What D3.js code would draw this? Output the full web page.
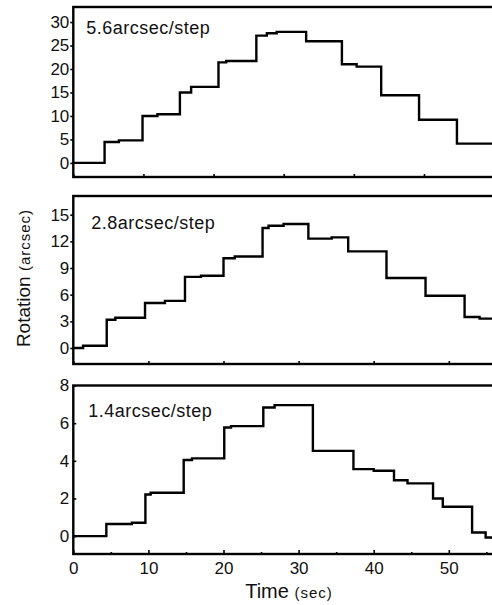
<!DOCTYPE html>
<html>
<head>
<meta charset="utf-8">
<script src="https://cdn.jsdelivr.net/npm/d3@7"></script>
<style>
  html, body { margin: 0; padding: 0; background: #fff; }
  svg { display: block; font-family: "Liberation Sans", Arial, sans-serif; }
  .tick text { fill: #111; }
</style>
</head>
<body>
<svg id="chart" width="492" height="605"></svg>
<script>
// Rotation response to stepped commands, three step sizes.
// Each trace: times (s) at which the level changes, and the level (arcsec) held from then on.
const stepLabels = ["5.6arcsec/step", "2.8arcsec/step", "1.4arcsec/step"];

const time56 = [0, 4.46, 6.5, 9.87, 12.0, 15.2, 16.8, 20.7, 21.8, 26.1, 27.6, 29.0, 33.2, 38.3, 40.4, 43.9, 49.3, 54.7, 59.7];
const rot56  = [0, 4.45, 4.8, 10.0, 10.35, 15.0, 16.2, 21.4, 21.7, 27.1, 27.6, 27.9, 25.9, 21.0, 20.5, 14.4, 9.2, 4.1, 4.1];

const time28 = [0, 1.3, 4.45, 5.6, 9.55, 12.2, 14.87, 17.0, 20.0, 21.5, 25.2, 26.0, 28.0, 31.3, 34.4, 36.6, 41.7, 46.9, 52.1, 54.1, 55.75];
const rot28  = [0, 0.26, 3.18, 3.4, 5.06, 5.3, 8.0, 8.13, 10.1, 10.3, 13.5, 13.76, 13.95, 12.3, 12.45, 10.87, 7.87, 5.88, 3.49, 3.3, 3.3];

const time14 = [0, 4.4, 7.8, 9.6, 10.3, 14.7, 15.8, 20.1, 21.0, 25.3, 26.8, 31.9, 37.3, 40.0, 42.7, 44.5, 47.9, 49.2, 53.1, 54.9, 55.75];
const rot14  = [0, 0.64, 0.71, 2.21, 2.3, 4.04, 4.13, 5.77, 5.84, 6.83, 6.96, 4.53, 3.56, 3.47, 2.97, 2.8, 2.0, 1.56, 0.19, -0.07, -0.15];

const yTicks56 = [0, 5, 10, 15, 20, 25, 30];
const yTicks28 = [0, 3, 6, 9, 12, 15];
const yTicks14 = [0, 2, 4, 6, 8];
const xTicksMajor = [0, 10, 20, 30, 40, 50];
const xTicksMinor = [5, 15, 25, 35, 45, 55];

const xLabel = "Time", xUnit = "(sec)";
const yLabel = "Rotation", yUnit = "(arcsec)";

// Panel layout
const left = 73.3, right = 492;
const panels = [
  { times: time56, rots: rot56, yTicks: yTicks56, label: stepLabels[0],
    top: 7, bottom: 177, yDom: [-3.0, 33.2], xMax: 59.7, tickIn: false, xLabels: false, lx: 13, ly: 27 },
  { times: time28, rots: rot28, yTicks: yTicks28, label: stepLabels[1],
    top: 196, bottom: 364, yDom: [-1.8, 17.1], xMax: 55.75, tickIn: false, xLabels: false, lx: 18, ly: 33 },
  { times: time14, rots: rot14, yTicks: yTicks14, label: stepLabels[2],
    top: 385.5, bottom: 554, yDom: [-0.95, 8], xMax: 55.75, tickIn: true, xLabels: true, lx: 15, ly: 31.5 }
];

const svg = d3.select("#chart");

panels.forEach((p, i) => {
  const x = d3.scaleLinear().domain([0, p.xMax]).range([left, right]);
  const y = d3.scaleLinear().domain(p.yDom).range([p.bottom, p.top]);
  const g = svg.append("g");

  // clip the trace to the plotting frame
  const clipId = "clip" + i;
  g.append("clipPath").attr("id", clipId)
    .append("rect").attr("x", left).attr("y", p.top).attr("width", right - left + 5).attr("height", p.bottom - p.top);

  // y axis
  const yAxis = d3.axisLeft(y).tickValues(p.yTicks).tickSizeOuter(0)
    .tickSize(p.tickIn ? -3 : 3).tickPadding(p.tickIn ? 4 : 1);
  const ya = g.append("g").attr("transform", `translate(${left},0)`).call(yAxis);
  ya.select(".domain").remove();
  ya.selectAll(".tick line").attr("stroke", "#000").attr("stroke-width", 1.6);
  ya.selectAll(".tick text").attr("font-size", 17).attr("font-family", "Liberation Sans, Arial, sans-serif");

  // x axis (inward ticks)
  const xAxis = d3.axisBottom(x).tickValues(xTicksMajor).tickSizeOuter(0)
    .tickSize(p.xLabels ? -4 : -3).tickPadding(8);
  if (!p.xLabels) xAxis.tickFormat("");
  const xa = g.append("g").attr("transform", `translate(0,${p.bottom})`).call(xAxis);
  xa.select(".domain").remove();
  xa.selectAll(".tick line").attr("stroke", "#000").attr("stroke-width", 1.6);
  xa.selectAll(".tick text").attr("font-size", 17).attr("font-family", "Liberation Sans, Arial, sans-serif");

  if (p.xLabels) {
    const xm = g.append("g").attr("transform", `translate(0,${p.bottom})`)
      .call(d3.axisBottom(x).tickValues(xTicksMinor).tickSize(-2).tickSizeOuter(0).tickFormat(""));
    xm.select(".domain").remove();
    xm.selectAll(".tick line").attr("stroke", "#000").attr("stroke-width", 1.6);
  }

  // frame (right side runs past the edge)
  g.append("rect")
    .attr("x", left).attr("y", p.top)
    .attr("width", right - left + 10).attr("height", p.bottom - p.top)
    .attr("fill", "none").attr("stroke", "#000").attr("stroke-width", 2.4);

  // step trace
  const line = d3.line()
    .x(d => x(d[0])).y(d => y(d[1]))
    .curve(d3.curveStepAfter);
  g.append("path")
    .datum(p.times.map((t, k) => [t, p.rots[k]]))
    .attr("clip-path", `url(#${clipId})`)
    .attr("d", line)
    .attr("fill", "none").attr("stroke", "#000").attr("stroke-width", 2.4)
    .attr("stroke-linejoin", "miter");

  // step size label
  g.append("text")
    .attr("x", left + p.lx).attr("y", p.top + p.ly)
    .attr("font-size", 18).attr("letter-spacing", 0.5).attr("fill", "#111")
    .text(p.label);
});

// axis titles
const xt = svg.append("text").attr("x", 289).attr("y", 598)
  .attr("text-anchor", "middle").attr("fill", "#111");
xt.append("tspan").attr("font-size", 20).text(xLabel + " ");
xt.append("tspan").attr("font-size", 15).attr("letter-spacing", 1).text(xUnit);

const yt = svg.append("text")
  .attr("transform", "translate(30,278) rotate(-90)")
  .attr("text-anchor", "middle").attr("fill", "#111");
yt.append("tspan").attr("font-size", 19).text(yLabel + " ");
yt.append("tspan").attr("font-size", 15).attr("letter-spacing", 1).text(yUnit);
</script>
</body>
</html>
